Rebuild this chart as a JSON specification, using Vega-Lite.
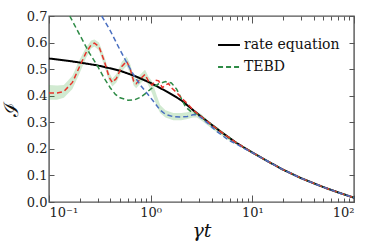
{
  "$schema": "https://vega.github.io/schema/vega-lite/v6.json",
  "width": 305,
  "height": 186,
  "autosize": {"type": "none"},
  "padding": {"left": 49, "top": 16, "right": 20, "bottom": 46},
  "background": "white",
  "config": {
    "view": {"stroke": "#555", "strokeWidth": 1.4},
    "font": "DejaVu Serif",
    "axis": {"domain": false, "grid": false, "tickColor": "#555", "tickWidth": 1, "labelColor": "#222", "labelFont": "DejaVu Serif", "labelFontSize": 13, "titleFont": "DejaVu Serif", "titleColor": "#111"},
    "legend": {"labelFont": "DejaVu Serif"}
  },
  "datasets": {
    "curves": [
      {"x": 0.1, "y": 0.540, "series": "rate equation"},
      {"x": 0.15, "y": 0.532, "series": "rate equation"},
      {"x": 0.2, "y": 0.525, "series": "rate equation"},
      {"x": 0.3, "y": 0.514, "series": "rate equation"},
      {"x": 0.4, "y": 0.503, "series": "rate equation"},
      {"x": 0.5, "y": 0.494, "series": "rate equation"},
      {"x": 0.7, "y": 0.474, "series": "rate equation"},
      {"x": 1.0, "y": 0.448, "series": "rate equation"},
      {"x": 1.5, "y": 0.412, "series": "rate equation"},
      {"x": 2.0, "y": 0.383, "series": "rate equation"},
      {"x": 3.0, "y": 0.327, "series": "rate equation"},
      {"x": 4.0, "y": 0.290, "series": "rate equation"},
      {"x": 5.0, "y": 0.262, "series": "rate equation"},
      {"x": 7.0, "y": 0.222, "series": "rate equation"},
      {"x": 10, "y": 0.186, "series": "rate equation"},
      {"x": 15, "y": 0.148, "series": "rate equation"},
      {"x": 20, "y": 0.122, "series": "rate equation"},
      {"x": 30, "y": 0.090, "series": "rate equation"},
      {"x": 50, "y": 0.056, "series": "rate equation"},
      {"x": 70, "y": 0.036, "series": "rate equation"},
      {"x": 100, "y": 0.016, "series": "rate equation"},

      {"x": 0.16, "y": 0.700, "series": "TEBD"},
      {"x": 0.2, "y": 0.630, "series": "TEBD"},
      {"x": 0.25, "y": 0.560, "series": "TEBD"},
      {"x": 0.3, "y": 0.512, "series": "TEBD"},
      {"x": 0.35, "y": 0.465, "series": "TEBD"},
      {"x": 0.4, "y": 0.430, "series": "TEBD"},
      {"x": 0.45, "y": 0.405, "series": "TEBD"},
      {"x": 0.5, "y": 0.392, "series": "TEBD"},
      {"x": 0.6, "y": 0.383, "series": "TEBD"},
      {"x": 0.7, "y": 0.385, "series": "TEBD"},
      {"x": 0.8, "y": 0.395, "series": "TEBD"},
      {"x": 0.9, "y": 0.410, "series": "TEBD"},
      {"x": 1.0, "y": 0.425, "series": "TEBD"},
      {"x": 1.2, "y": 0.445, "series": "TEBD"},
      {"x": 1.4, "y": 0.453, "series": "TEBD"},
      {"x": 1.6, "y": 0.448, "series": "TEBD"},
      {"x": 1.8, "y": 0.425, "series": "TEBD"},
      {"x": 2.0, "y": 0.390, "series": "TEBD"},
      {"x": 2.2, "y": 0.358, "series": "TEBD"},
      {"x": 2.5, "y": 0.340, "series": "TEBD"},
      {"x": 2.8, "y": 0.334, "series": "TEBD"},
      {"x": 3.0, "y": 0.327, "series": "TEBD"},
      {"x": 4.0, "y": 0.290, "series": "TEBD"},
      {"x": 5.0, "y": 0.262, "series": "TEBD"},
      {"x": 7.0, "y": 0.222, "series": "TEBD"},
      {"x": 10, "y": 0.186, "series": "TEBD"},
      {"x": 15, "y": 0.148, "series": "TEBD"},
      {"x": 20, "y": 0.122, "series": "TEBD"},
      {"x": 30, "y": 0.090, "series": "TEBD"},
      {"x": 50, "y": 0.056, "series": "TEBD"},
      {"x": 70, "y": 0.036, "series": "TEBD"},
      {"x": 100, "y": 0.016, "series": "TEBD"},

      {"x": 0.1, "y": 0.410, "series": "TEBD b"},
      {"x": 0.12, "y": 0.410, "series": "TEBD b"},
      {"x": 0.14, "y": 0.416, "series": "TEBD b"},
      {"x": 0.17, "y": 0.450, "series": "TEBD b"},
      {"x": 0.2, "y": 0.510, "series": "TEBD b"},
      {"x": 0.23, "y": 0.560, "series": "TEBD b"},
      {"x": 0.26, "y": 0.592, "series": "TEBD b"},
      {"x": 0.28, "y": 0.598, "series": "TEBD b"},
      {"x": 0.31, "y": 0.585, "series": "TEBD b"},
      {"x": 0.35, "y": 0.530, "series": "TEBD b"},
      {"x": 0.39, "y": 0.470, "series": "TEBD b"},
      {"x": 0.42, "y": 0.450, "series": "TEBD b"},
      {"x": 0.46, "y": 0.465, "series": "TEBD b"},
      {"x": 0.52, "y": 0.510, "series": "TEBD b"},
      {"x": 0.58, "y": 0.530, "series": "TEBD b"},
      {"x": 0.63, "y": 0.500, "series": "TEBD b"},
      {"x": 0.68, "y": 0.455, "series": "TEBD b"},
      {"x": 0.72, "y": 0.445, "series": "TEBD b"},
      {"x": 0.8, "y": 0.465, "series": "TEBD b"},
      {"x": 0.88, "y": 0.480, "series": "TEBD b"},
      {"x": 0.95, "y": 0.455, "series": "TEBD b"},
      {"x": 1.03, "y": 0.440, "series": "TEBD b"},
      {"x": 1.12, "y": 0.458, "series": "TEBD b"},
      {"x": 1.2, "y": 0.456, "series": "TEBD b"},
      {"x": 1.3, "y": 0.430, "series": "TEBD b"},
      {"x": 1.4, "y": 0.440, "series": "TEBD b"},
      {"x": 1.5, "y": 0.446, "series": "TEBD b"},
      {"x": 1.6, "y": 0.430, "series": "TEBD b"},
      {"x": 1.8, "y": 0.412, "series": "TEBD b"},
      {"x": 2.0, "y": 0.392, "series": "TEBD b"},
      {"x": 2.3, "y": 0.370, "series": "TEBD b"},
      {"x": 2.6, "y": 0.348, "series": "TEBD b"},
      {"x": 3.0, "y": 0.327, "series": "TEBD b"},
      {"x": 4.0, "y": 0.290, "series": "TEBD b"},
      {"x": 5.0, "y": 0.262, "series": "TEBD b"},
      {"x": 7.0, "y": 0.222, "series": "TEBD b"},
      {"x": 10, "y": 0.186, "series": "TEBD b"},
      {"x": 15, "y": 0.148, "series": "TEBD b"},
      {"x": 20, "y": 0.122, "series": "TEBD b"},
      {"x": 30, "y": 0.090, "series": "TEBD b"},
      {"x": 50, "y": 0.056, "series": "TEBD b"},
      {"x": 70, "y": 0.036, "series": "TEBD b"},
      {"x": 100, "y": 0.016, "series": "TEBD b"},

      {"x": 0.33, "y": 0.700, "series": "TEBD c"},
      {"x": 0.4, "y": 0.645, "series": "TEBD c"},
      {"x": 0.5, "y": 0.572, "series": "TEBD c"},
      {"x": 0.6, "y": 0.515, "series": "TEBD c"},
      {"x": 0.7, "y": 0.470, "series": "TEBD c"},
      {"x": 0.8, "y": 0.438, "series": "TEBD c"},
      {"x": 0.92, "y": 0.409, "series": "TEBD c"},
      {"x": 1.0, "y": 0.392, "series": "TEBD c"},
      {"x": 1.1, "y": 0.372, "series": "TEBD c"},
      {"x": 1.24, "y": 0.346, "series": "TEBD c"},
      {"x": 1.4, "y": 0.330, "series": "TEBD c"},
      {"x": 1.67, "y": 0.321, "series": "TEBD c"},
      {"x": 2.0, "y": 0.320, "series": "TEBD c"},
      {"x": 2.3, "y": 0.322, "series": "TEBD c"},
      {"x": 2.6, "y": 0.328, "series": "TEBD c"},
      {"x": 2.85, "y": 0.328, "series": "TEBD c"},
      {"x": 3.2, "y": 0.315, "series": "TEBD c"},
      {"x": 3.6, "y": 0.298, "series": "TEBD c"},
      {"x": 4.0, "y": 0.282, "series": "TEBD c"},
      {"x": 4.5, "y": 0.265, "series": "TEBD c"},
      {"x": 5.0, "y": 0.252, "series": "TEBD c"},
      {"x": 5.5, "y": 0.240, "series": "TEBD c"},
      {"x": 6.0, "y": 0.230, "series": "TEBD c"},
      {"x": 7.0, "y": 0.218, "series": "TEBD c"},
      {"x": 8.0, "y": 0.205, "series": "TEBD c"},
      {"x": 10, "y": 0.186, "series": "TEBD c"},
      {"x": 15, "y": 0.148, "series": "TEBD c"},
      {"x": 20, "y": 0.122, "series": "TEBD c"},
      {"x": 30, "y": 0.090, "series": "TEBD c"},
      {"x": 50, "y": 0.056, "series": "TEBD c"},
      {"x": 70, "y": 0.036, "series": "TEBD c"},
      {"x": 100, "y": 0.016, "series": "TEBD c"}
    ],
    "band": [
      {"x": 0.1, "lo": 0.385, "hi": 0.440},
      {"x": 0.12, "lo": 0.385, "hi": 0.438},
      {"x": 0.14, "lo": 0.392, "hi": 0.440},
      {"x": 0.17, "lo": 0.425, "hi": 0.475},
      {"x": 0.2, "lo": 0.485, "hi": 0.535},
      {"x": 0.23, "lo": 0.540, "hi": 0.580},
      {"x": 0.26, "lo": 0.578, "hi": 0.608},
      {"x": 0.28, "lo": 0.585, "hi": 0.612},
      {"x": 0.31, "lo": 0.570, "hi": 0.600},
      {"x": 0.35, "lo": 0.512, "hi": 0.548},
      {"x": 0.39, "lo": 0.455, "hi": 0.488},
      {"x": 0.42, "lo": 0.435, "hi": 0.465},
      {"x": 0.46, "lo": 0.450, "hi": 0.482},
      {"x": 0.52, "lo": 0.492, "hi": 0.528},
      {"x": 0.58, "lo": 0.512, "hi": 0.548},
      {"x": 0.63, "lo": 0.482, "hi": 0.518},
      {"x": 0.68, "lo": 0.438, "hi": 0.472},
      {"x": 0.72, "lo": 0.428, "hi": 0.462},
      {"x": 0.8, "lo": 0.448, "hi": 0.482},
      {"x": 0.88, "lo": 0.462, "hi": 0.498},
      {"x": 0.95, "lo": 0.438, "hi": 0.472},
      {"x": 1.03, "lo": 0.410, "hi": 0.455},
      {"x": 1.15, "lo": 0.360, "hi": 0.400},
      {"x": 1.24, "lo": 0.335, "hi": 0.365},
      {"x": 1.4, "lo": 0.318, "hi": 0.345},
      {"x": 1.67, "lo": 0.308, "hi": 0.335},
      {"x": 2.0, "lo": 0.308, "hi": 0.335},
      {"x": 2.3, "lo": 0.312, "hi": 0.338},
      {"x": 2.6, "lo": 0.318, "hi": 0.345},
      {"x": 2.85, "lo": 0.318, "hi": 0.342},
      {"x": 3.2, "lo": 0.305, "hi": 0.328},
      {"x": 3.6, "lo": 0.290, "hi": 0.310},
      {"x": 4.0, "lo": 0.276, "hi": 0.296},
      {"x": 5.0, "lo": 0.250, "hi": 0.268},
      {"x": 6.0, "lo": 0.230, "hi": 0.246},
      {"x": 7.0, "lo": 0.216, "hi": 0.228}
    ]
  },
  "resolve": {"axis": {"x": "independent", "y": "independent"}},
  "layer": [
    {
      "data": {"name": "band"},
      "mark": {"type": "area", "color": "#2ca02c", "opacity": 0.22},
      "encoding": {
        "x": {"field": "x", "type": "quantitative", "scale": {"type": "log", "domain": [0.1, 100]},
          "axis": {"orient": "bottom", "values": [0.1, 1, 10, 100], "tickSize": -7, "labelPadding": 11,
            "labelExpr": "datum.value < 0.5 ? '10⁻¹' : datum.value < 5 ? '10⁰' : datum.value < 50 ? '10¹' : '10²'",
            "labelFontSize": 13, "title": "γt", "titleFontSize": 19, "titleFontStyle": "italic", "titleFontWeight": "normal", "titlePadding": 2}},
        "y": {"field": "lo", "type": "quantitative", "scale": {"domain": [0, 0.7]},
          "axis": {"orient": "left", "values": [0, 0.1, 0.2, 0.3, 0.4, 0.5, 0.6, 0.7], "format": ".1f", "tickSize": -5, "labelPadding": 7,
            "labelFontSize": 13, "title": "ℐ", "titleFont": "DejaVu Serif", "titleFontSize": 20, "titleFontWeight": "normal", "titlePadding": 5}},
        "y2": {"field": "hi"}
      }
    },
    {
      "data": {"name": "curves"},
      "transform": [{"filter": "datum.series == 'rate equation'"}],
      "mark": {"type": "line", "strokeWidth": 2},
      "encoding": {
        "x": {"field": "x", "type": "quantitative", "scale": {"type": "log", "domain": [0.1, 100]},
          "axis": {"orient": "bottom", "values": [0.2, 0.3, 0.4, 0.5, 0.6, 0.7, 0.8, 0.9, 2, 3, 4, 5, 6, 7, 8, 9, 20, 30, 40, 50, 60, 70, 80, 90], "tickSize": -4, "labels": false, "title": null}},
        "y": {"field": "y", "type": "quantitative", "scale": {"domain": [0, 0.7]},
          "axis": {"orient": "right", "values": [0, 0.1, 0.2, 0.3, 0.4, 0.5, 0.6, 0.7], "tickSize": -5, "labels": false, "title": null}},
        "color": {"field": "series", "type": "nominal",
          "scale": {"domain": ["rate equation", "TEBD", "TEBD b", "TEBD c"], "range": ["#000000", "#2e8b46", "#e8332b", "#4a6fc0"]},
          "legend": {"values": ["rate equation", "TEBD"], "title": null, "orient": "none", "legendX": 168, "legendY": 17, "symbolType": "stroke", "symbolSize": 480, "symbolStrokeWidth": 2, "labelFontSize": 14, "labelFont": "DejaVu Serif", "labelColor": "#111", "rowPadding": 3, "labelOffset": 3}},
        "strokeDash": {"field": "series", "type": "nominal",
          "scale": {"domain": ["rate equation", "TEBD", "TEBD b", "TEBD c"], "range": [[1, 0], [5, 3], [5, 3], [5, 3]]},
          "legend": {"values": ["rate equation", "TEBD"], "title": null, "orient": "none", "legendX": 168, "legendY": 17, "symbolType": "stroke", "symbolSize": 480, "symbolStrokeWidth": 2, "labelFontSize": 14, "labelFont": "DejaVu Serif", "labelColor": "#111", "rowPadding": 3, "labelOffset": 3}}
      }
    },
    {
      "data": {"name": "curves"},
      "transform": [{"filter": "datum.series == 'TEBD'"}],
      "mark": {"type": "line", "strokeWidth": 1.5},
      "encoding": {
        "x": {"field": "x", "type": "quantitative", "scale": {"type": "log", "domain": [0.1, 100]},
          "axis": {"orient": "top", "values": [0.1, 1, 10, 100], "tickSize": -7, "labels": false, "title": null}},
        "y": {"field": "y", "type": "quantitative", "scale": {"domain": [0, 0.7]}, "axis": null},
        "color": {"field": "series", "type": "nominal"},
        "strokeDash": {"field": "series", "type": "nominal"}
      }
    },
    {
      "data": {"name": "curves"},
      "transform": [{"filter": "datum.series == 'TEBD b'"}],
      "mark": {"type": "line", "strokeWidth": 1.5},
      "encoding": {
        "x": {"field": "x", "type": "quantitative", "scale": {"type": "log", "domain": [0.1, 100]},
          "axis": {"orient": "top", "values": [0.2, 0.3, 0.4, 0.5, 0.6, 0.7, 0.8, 0.9, 2, 3, 4, 5, 6, 7, 8, 9, 20, 30, 40, 50, 60, 70, 80, 90], "tickSize": -4, "labels": false, "title": null}},
        "y": {"field": "y", "type": "quantitative", "scale": {"domain": [0, 0.7]}, "axis": null},
        "color": {"field": "series", "type": "nominal"},
        "strokeDash": {"field": "series", "type": "nominal"}
      }
    },
    {
      "data": {"name": "curves"},
      "transform": [{"filter": "datum.series == 'TEBD c'"}],
      "mark": {"type": "line", "strokeWidth": 1.5},
      "encoding": {
        "x": {"field": "x", "type": "quantitative", "scale": {"type": "log", "domain": [0.1, 100]}, "axis": null},
        "y": {"field": "y", "type": "quantitative", "scale": {"domain": [0, 0.7]}, "axis": null},
        "color": {"field": "series", "type": "nominal"},
        "strokeDash": {"field": "series", "type": "nominal"}
      }
    }
  ]
}
